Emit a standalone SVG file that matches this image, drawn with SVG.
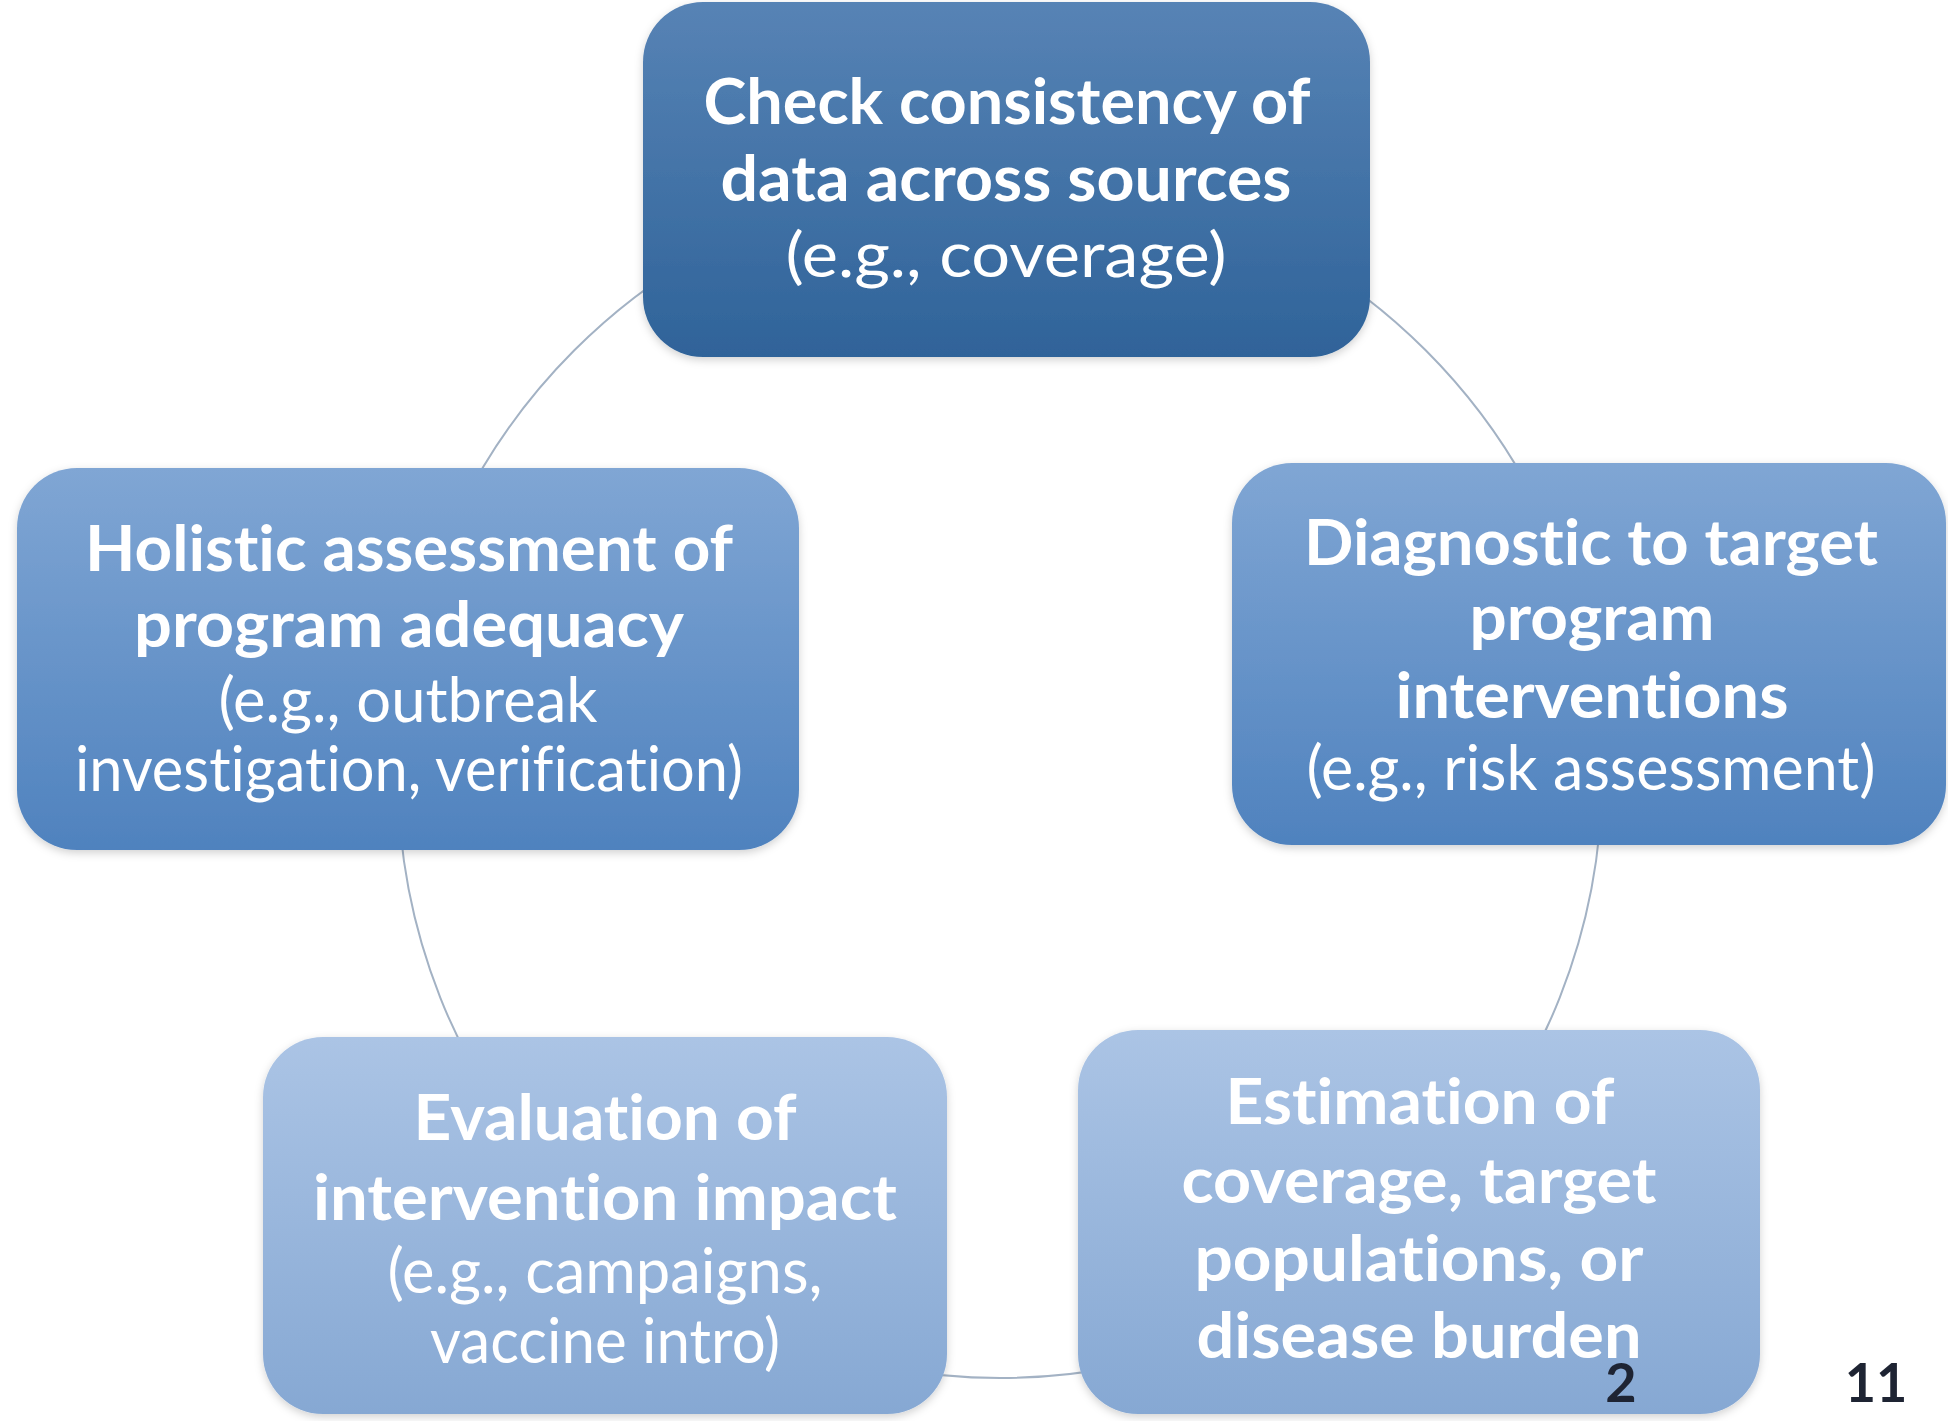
<svg xmlns="http://www.w3.org/2000/svg" width="1948" height="1421" viewBox="0 0 1948 1421">
  <style>
    text { font-variant-ligatures: none; font-feature-settings: "liga" 0, "clig" 0; }
    .head { font-family: Lato, "Open Sans", "Liberation Sans", sans-serif; font-weight: 700; font-size: 64px; fill: #ffffff; text-anchor: middle; }
    .note { font-family: Lato, "Open Sans", "Liberation Sans", sans-serif; font-weight: 400; font-size: 62px; fill: #ffffff; text-anchor: middle; }
    .page { font-family: Lato, "Liberation Sans", sans-serif; font-weight: 700; font-size: 54px; fill: #1e2433; text-anchor: middle; }
    .ring { fill: none; stroke: #a3b2c4; stroke-width: 2; }
  </style>
  <defs>
    <linearGradient id="gDark" x1="0" y1="0" x2="0" y2="1">
      <stop offset="0" stop-color="#5783b5"/>
      <stop offset="1" stop-color="#2f6399"/>
    </linearGradient>
    <linearGradient id="gMid" x1="0" y1="0" x2="0" y2="1">
      <stop offset="0" stop-color="#80a6d4"/>
      <stop offset="1" stop-color="#4f82be"/>
    </linearGradient>
    <linearGradient id="gLight" x1="0" y1="0" x2="0" y2="1">
      <stop offset="0" stop-color="#abc4e5"/>
      <stop offset="1" stop-color="#86a8d3"/>
    </linearGradient>
    <filter id="shadow" x="-5%" y="-5%" width="110%" height="115%">
      <feDropShadow dx="0" dy="3" stdDeviation="4" flood-color="#000000" flood-opacity="0.18"/>
    </filter>
  </defs>

  <rect width="1948" height="1421" fill="#ffffff"/>

  <!-- cycle ring joining the steps -->
  <g id="connectors">
    <circle class="ring" cx="1000" cy="776" r="602"/>
  </g>

  <g id="node-consistency" filter="url(#shadow)">
    <rect x="643" y="2" width="727" height="355" rx="60" fill="url(#gDark)"/>
    <text class="head" x="1007" y="124" textLength="607" lengthAdjust="spacingAndGlyphs">Check consistency of</text>
    <text class="head" x="1006" y="201" textLength="571" lengthAdjust="spacingAndGlyphs">data across sources</text>
    <text class="note" x="1006" y="277" textLength="441" lengthAdjust="spacingAndGlyphs">(e.g., coverage)</text>
  </g>

  <g id="node-diagnostic" filter="url(#shadow)">
    <rect x="1232" y="463" width="714" height="382" rx="60" fill="url(#gMid)"/>
    <text class="head" x="1591" y="565" textLength="574" lengthAdjust="spacingAndGlyphs">Diagnostic to target</text>
    <text class="head" x="1592" y="640" textLength="245" lengthAdjust="spacingAndGlyphs">program</text>
    <text class="head" x="1592" y="718" textLength="393" lengthAdjust="spacingAndGlyphs">interventions</text>
    <text class="note" x="1591" y="790" textLength="569" lengthAdjust="spacingAndGlyphs">(e.g., risk assessment)</text>
  </g>

  <g id="node-estimation" filter="url(#shadow)">
    <rect x="1078" y="1030" width="682" height="384" rx="60" fill="url(#gLight)"/>
    <text class="head" x="1420" y="1124" textLength="389" lengthAdjust="spacingAndGlyphs">Estimation of</text>
    <text class="head" x="1419" y="1203" textLength="475" lengthAdjust="spacingAndGlyphs">coverage, target</text>
    <text class="head" x="1419" y="1281" textLength="449" lengthAdjust="spacingAndGlyphs">populations, or</text>
    <text class="head" x="1419" y="1358" textLength="445" lengthAdjust="spacingAndGlyphs">disease burden</text>
  </g>

  <g id="node-evaluation" filter="url(#shadow)">
    <rect x="263" y="1037" width="684" height="377" rx="60" fill="url(#gLight)"/>
    <text class="head" x="605" y="1140" textLength="383" lengthAdjust="spacingAndGlyphs">Evaluation of</text>
    <text class="head" x="605" y="1220" textLength="584" lengthAdjust="spacingAndGlyphs">intervention impact</text>
    <text class="note" x="605" y="1293" textLength="435" lengthAdjust="spacingAndGlyphs">(e.g., campaigns,</text>
    <text class="note" x="605" y="1363" textLength="350" lengthAdjust="spacingAndGlyphs">vaccine intro)</text>
  </g>

  <g id="node-holistic" filter="url(#shadow)">
    <rect x="17" y="468" width="782" height="382" rx="60" fill="url(#gMid)"/>
    <text class="head" x="409" y="571" textLength="648" lengthAdjust="spacingAndGlyphs">Holistic assessment of</text>
    <text class="head" x="409" y="647" textLength="550" lengthAdjust="spacingAndGlyphs">program adequacy</text>
    <text class="note" x="408" y="722" textLength="379" lengthAdjust="spacingAndGlyphs">(e.g., outbreak</text>
    <text class="note" x="409" y="791" textLength="668" lengthAdjust="spacingAndGlyphs">investigation, verification)</text>
  </g>

  <!-- page numbers -->
  <g id="page-numbers">
    <text class="page" x="1621" y="1402">2</text>
    <text class="page" x="1876" y="1402">11</text>
  </g>
</svg>
